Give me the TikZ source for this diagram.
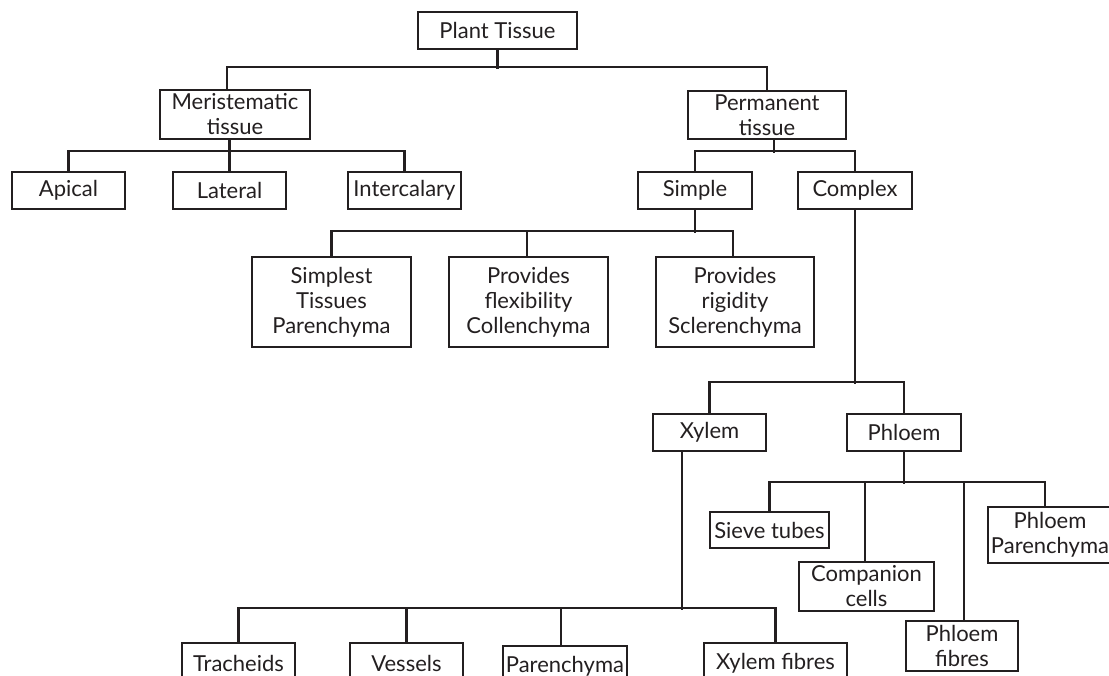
\documentclass[tikz,border=0pt]{standalone}
\usepackage{fontspec}
\setmainfont{Lato}
\definecolor{ink}{HTML}{231F20}
\begin{document}
\begin{tikzpicture}[x=1pt,y=-1pt,
  box/.style={draw=ink,line width=2.1pt,inner sep=0pt,text=ink,align=center,
    font=\fontsize{22pt}{25pt}\selectfont},
  link/.style={draw=ink,line width=2.1pt}]
\useasboundingbox (0,0) rectangle (1109,676);
\clip (0,0) rectangle (1109,676);
% level 0-1
\node[box,minimum width=159,minimum height=37] (pt) at (497.5,30.5) {Plant Tissue};
\node[box,minimum width=150,minimum height=49] (mer) at (235,114.5) {Meristematic\\tissue};
\node[box,minimum width=158,minimum height=48] (per) at (767,115) {Permanent\\tissue};
% meristematic children
\node[box,minimum width=113,minimum height=37] (api) at (68.5,190.5) {Apical};
\node[box,minimum width=113,minimum height=37] (lat) at (229.5,190.5) {Lateral};
\node[box,minimum width=113,minimum height=37] (inter) at (404.5,190.5) {Intercalary};
% permanent children
\node[box,minimum width=114,minimum height=37] (sim) at (695,190.5) {Simple};
\node[box,minimum width=114,minimum height=37] (com) at (855,190.5) {Complex};
% simple children
\node[box,minimum width=159,minimum height=90] (par1) at (331.5,302) {Simplest\\Tissues\\Parenchyma};
\node[box,minimum width=159,minimum height=90] (col) at (528.5,302) {Provides\\flexibility\\Collenchyma};
\node[box,minimum width=158,minimum height=90] (scl) at (735,302) {Provides\\rigidity\\Sclerenchyma};
% complex children
\node[box,minimum width=113,minimum height=37] (xyl) at (709.5,432.5) {Xylem};
\node[box,minimum width=114,minimum height=37] (phl) at (904,432.5) {Phloem};
% phloem children
\node[box,minimum width=119,minimum height=36] (sieve) at (769.5,530) {Sieve tubes};
\node[box,minimum width=135,minimum height=49] (comp) at (866.5,586.5) {Companion\\cells};
\node[box,minimum width=112,minimum height=50] (pfib) at (962,646) {Phloem\\fibres};
\node[box,minimum width=124,minimum height=56] (ppar) at (1050,535) {Phloem\\Parenchyma};
% xylem children
\node[box,minimum width=113,minimum height=40] (trach) at (238.5,663) {Tracheids};
\node[box,minimum width=113,minimum height=40] (vess) at (406.5,663) {Vessels};
\node[box,minimum width=124,minimum height=40] (par2) at (565,666) {Parenchyma};
\node[box,minimum width=143,minimum height=40] (xfib) at (775.5,663) {Xylem fibres};
% connectors
\draw[link] (pt.south) -- ++(0,19);
\draw[link] ([xshift=-8pt]mer.north) -- ++(0,-22) -| (per.north);
\draw[link] (lat.north) -- (lat.north |- mer.south);
\draw[link] (api.north) -- ++(0,-20) -| (inter.north);
\draw[link] ([xshift=7pt]per.south) -- ++(0,13);
\draw[link] (sim.north) -- ++(0,-20) -| (com.north);
\draw[link] (sim.south) -- ++(0,23);
\draw[link] (par1.north) -- ++(0,-25) -| ([xshift=-2pt]scl.north);
\draw[link] ([xshift=-1.5pt]col.north) -- ++(0,-25);
\draw[link] (com.south) -- ++(0,174);
\draw[link] (xyl.north) -- ++(0,-31) -| (phl.north);
\draw[link] ([xshift=-27.5pt]xyl.south) -- ++(0,158);
\draw[link] (trach.north) -- ++(0,-34) -| (xfib.north);
\draw[link] (vess.north) -- ++(0,-34);
\draw[link] ([xshift=-4pt]par2.north) -- ++(0,-37);
\draw[link] (phl.south) -- ++(0,32);
\draw[link] (sieve.north) -- ++(0,-29) -| ([xshift=-5pt]ppar.north);
\draw[link] ([xshift=-1.5pt]comp.north) -- ++(0,-79);
\draw[link] ([xshift=2pt]pfib.north) -- ++(0,-138);
\end{tikzpicture}
\end{document}
